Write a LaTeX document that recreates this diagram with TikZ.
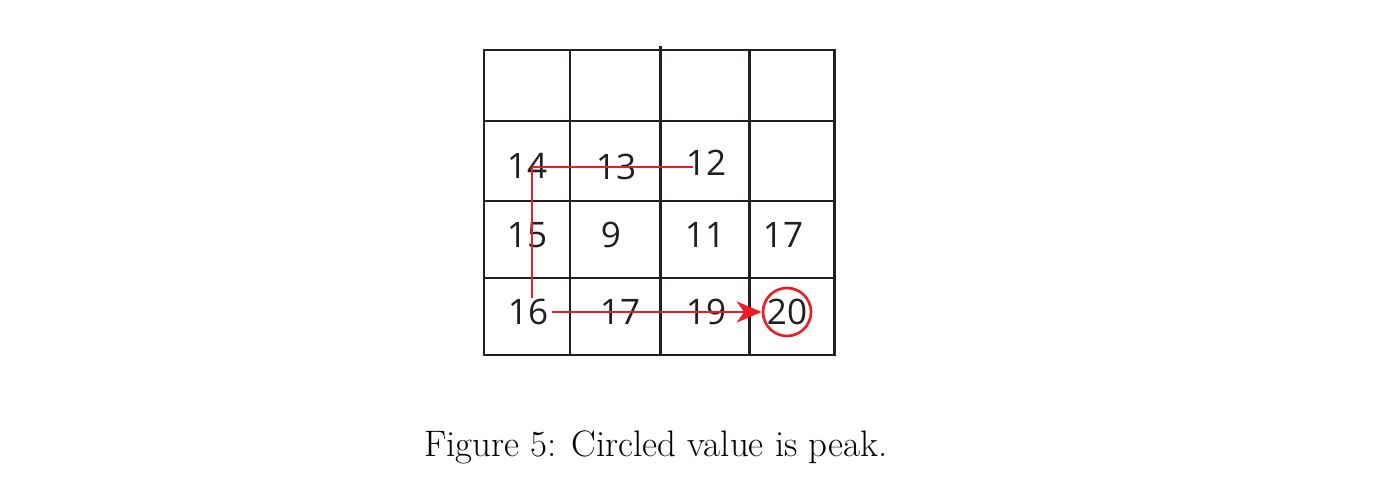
\documentclass[tikz,border=0pt]{standalone}
\usepackage{fontspec}
\usepackage{xcolor}
\usepackage{tikz}
\usetikzlibrary{arrows.meta}
\newfontfamily\cellfont{Open Sans}
\definecolor{gridgray}{HTML}{231F20}
\definecolor{pathred}{HTML}{ED1C24}

\begin{document}
\begin{tikzpicture}[
x=0.02cm, y=-0.02cm,
gridline/.style={draw=gridgray, line width=1.7pt},
cell/.style={text=gridgray, inner sep=0pt, font=\cellfont\fontsize{20}{22}\selectfont},
peak/.style={cell, circle, draw=pathred, line width=1.5pt, minimum size=0.96cm},
route/.style={draw=pathred, line width=1.7pt},
caption/.style={font=\fontsize{21}{24}\selectfont}
]
\useasboundingbox (0,0) rectangle (1400,486);

\draw[gridline] (484,50) rectangle (834,355);
\draw[gridline] (570,50) -- (570,355);
\draw[gridline] (660,46) -- (660,355);
\draw[gridline] (749,50) -- (749,355);
\draw[gridline] (484,121) -- (834,121);
\draw[gridline] (484,201) -- (834,201);
\draw[gridline] (484,278) -- (834,278);

\node[cell](c14) at (527,166){14};
\node[cell](c13) at (616,167){13};
\node[cell](c12) at (706,163){12};

\node[cell](c15) at (527,235){15};
\node[cell](c9) at (611,235){9};
\node[cell](c11) at (705,235){11};
\node[cell](c17a) at (783,235){17};

\node[cell](c16) at (528,312){16};
\node[cell](c17b) at (620,312){17};
\node[cell](c19) at (706,312){19};
\node[peak](c20) at (787,312){20};

\coordinate (turn_top) at (532,167);
\coordinate (start) at (693,167);
\coordinate (turn_bottom) at (532,298);
\coordinate (go) at (552,312);

\draw[route] (start) -- (turn_top);
\draw[route] (turn_top) -- (turn_bottom);
\draw[route, -{Stealth[length=0.5cm, width=0.42cm, inset=0.15cm]}] (go) -- (c20.west);

\node[caption](cap) at (656,447){Figure 5: Circled value is peak.};

\end{tikzpicture}
\end{document}
